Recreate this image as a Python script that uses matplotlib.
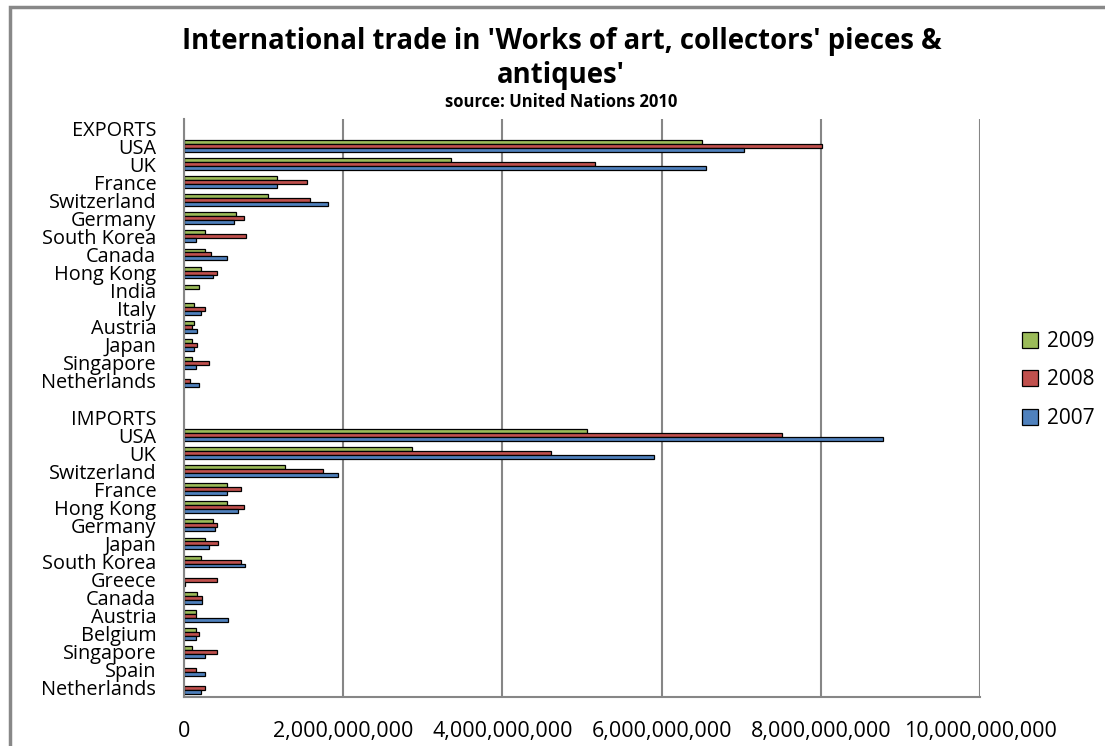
import matplotlib
matplotlib.use('Agg')
import matplotlib.pyplot as plt
import numpy as np
from matplotlib.patches import Rectangle
from matplotlib.ticker import FuncFormatter

# rows from top to bottom; '' rows are headers/blank spacer
categories = ['EXPORTS', 'USA', 'UK', 'France', 'Switzerland', 'Germany', 'South Korea',
              'Canada', 'Hong Kong', 'India', 'Italy', 'Austria', 'Japan', 'Singapore',
              'Netherlands', '', 'IMPORTS', 'USA', 'UK', 'Switzerland', 'France',
              'Hong Kong', 'Germany', 'Japan', 'South Korea', 'Greece', 'Canada',
              'Austria', 'Belgium', 'Singapore', 'Spain', 'Netherlands']

# values in billions of USD (header/blank rows are 0)
v2009 = [0, 6.51, 3.35, 1.17, 1.05, 0.65, 0.27, 0.27, 0.21, 0.19, 0.13, 0.13, 0.10, 0.10, 0.0,
         0, 0,
         5.06, 2.86, 1.27, 0.54, 0.54, 0.37, 0.26, 0.21, 0.0, 0.16, 0.15, 0.15, 0.10, 0.0, 0.0]
v2008 = [0, 8.02, 5.16, 1.55, 1.58, 0.75, 0.78, 0.34, 0.42, 0.0, 0.26, 0.10, 0.16, 0.32, 0.08,
         0, 0,
         7.51, 4.61, 1.74, 0.71, 0.75, 0.42, 0.43, 0.71, 0.41, 0.23, 0.15, 0.19, 0.41, 0.15, 0.26]
v2007 = [0, 7.04, 6.56, 1.17, 1.81, 0.63, 0.15, 0.54, 0.36, 0.0, 0.21, 0.16, 0.12, 0.15, 0.19,
         0, 0,
         8.78, 5.90, 1.93, 0.54, 0.68, 0.39, 0.31, 0.77, 0.01, 0.23, 0.55, 0.15, 0.27, 0.26, 0.21]

series = [('2009', v2009, '#9BBB59', -0.22),
          ('2008', v2008, '#C0504D', 0.0),
          ('2007', v2007, '#4F81BD', 0.22)]

plt.rcParams['font.family'] = ['Open Sans', 'DejaVu Sans']

fig = plt.figure(figsize=(11.05, 7.46), dpi=100)
ax = fig.add_axes([184 / 1105, 1 - 697 / 746, (980 - 184) / 1105, (697 - 119) / 746])

y = np.arange(len(categories))
handles = []
for label, vals, color, off in series:
    vals = np.array(vals) * 1e9
    # skip header rows (zero values) so they don't draw edge stubs
    mask = vals > 0
    h = ax.barh(y[mask] + off, vals[mask], height=0.22, color=color,
                edgecolor='black', linewidth=0.9, label=label)
    handles.append(h)

ax.set_ylim(len(categories) - 0.5, -0.5)
ax.set_xlim(0, 10e9)
ax.set_xticks(np.arange(0, 10.1e9, 2e9))
ax.xaxis.set_major_formatter(FuncFormatter(lambda v, p: f'{v:,.0f}'))
ax.set_yticks(y)
ax.set_yticklabels(categories, fontsize=14.3)
ax.tick_params(axis='y', length=0, pad=20)
ax.tick_params(axis='x', length=0, labelsize=15.5, pad=17)

ax.grid(axis='x', color='#868686', linewidth=1.5)
ax.set_axisbelow(True)
for s in ['top', 'right']:
    ax.spines[s].set_visible(False)
for s in ['left', 'bottom']:
    ax.spines[s].set_color('#868686')
    ax.spines[s].set_linewidth(1.5)

fig.text(0.508, 1 - 42 / 746, "International trade in 'Works of art, collectors' pieces &",
         ha='center', va='center', fontsize=19.8, fontweight='bold')
fig.text(0.508, 1 - 75 / 746, "antiques'", ha='center', va='center',
         fontsize=19.8, fontweight='bold')
fig.text(0.508, 1 - 102 / 746, 'source: United Nations 2010', ha='center', va='center',
         fontsize=12, fontweight='bold')

fig.legend(handles, ['2009', '2008', '2007'], loc='center left',
           bbox_to_anchor=(1003 / 1105, 1 - 380 / 746), frameon=False, fontsize=15,
           handlelength=0.8, handleheight=0.8, handletextpad=0.4, labelspacing=0.85)

fig.add_artist(Rectangle((10 / 1105, -0.1), 1.2, 1.1 - 7 / 746, transform=fig.transFigure,
                         fill=False, edgecolor='#888888', linewidth=2.5))

fig.savefig('out.png', dpi=100, facecolor='white')
